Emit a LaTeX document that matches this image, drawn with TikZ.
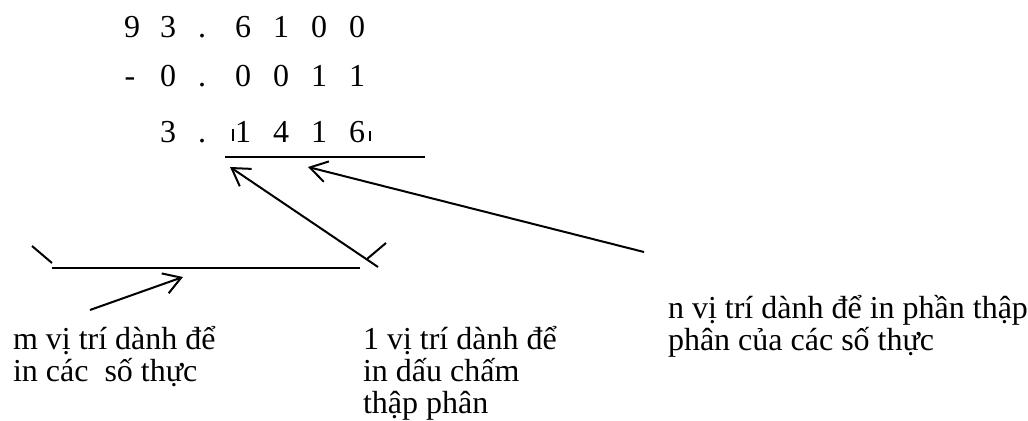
\documentclass[tikz,border=0pt]{standalone}
\usepackage{fontspec}
\setmainfont{Liberation Serif}
\usetikzlibrary{arrows.meta, positioning}

\begin{document}
\begin{tikzpicture}[x=0.5pt, y=-0.5pt, line width=1pt,
    font=\fontsize{16}{16}\selectfont,
    dig/.style={anchor=base, inner sep=0pt},
    lbl/.style={align=left, anchor=base west, inner sep=0pt},
    ptr/.style={-{Straight Barb[length=8.5pt, width=10.5pt]}}]
  \useasboundingbox (0,0) rectangle (1028,421);
  % the three rows of the subtraction
  \foreach \c/\x [count=\i] in {9/132, 3/168, ./202, 6/243, 1/281, 0/319, 0/357}
    \node[dig] (ra\i) at (\x,38) {\c};
  \foreach \c/\x [count=\i] in {-/130, 0/168, ./202, 0/243, 0/281, 1/319, 1/357}
    \node[dig] (rb\i) at (\x,87) {\c};
  \foreach \c/\x [count=\i] in {3/168, ./202, 1/243, 4/281, 1/319, 6/357}
    \node[dig] (rc\i) at (\x,143) {\c};
  \draw[line width=0.6pt] (233,129) -- (233,141);
  \draw[line width=0.6pt] (370,131) -- (370,141);

  % the two fields
  \coordinate (topl) at (225,157);
  \coordinate (topr) at (425,157);
  \coordinate (botl) at (52,268);
  \coordinate (botr) at (360,268);
  \draw (topl) -- (topr);
  \draw (botl) -- (botr);
  \draw (32,246) -- (52,263);
  \draw (367,259) -- (386,243);

  % labels (anchored at the baseline of their last line)
  \node[lbl] (mtxt) at (12,382) {m vị trí dành để\\in các\ \ số thực};
  \node[lbl] (dtxt) at (362,414) {1 vị trí dành để\\in dấu chấm\\thập phân};
  \node[lbl] (ntxt) at (667,351) {n vị trí dành để in phần thập\\phân của các số thực};

  % pointers
  \coordinate (mtail) at (90,310);
  \coordinate (mhead) at (183,277);
  \coordinate (dtail) at (378,267);
  \coordinate (dhead) at (230,167);
  \coordinate (ntail) at (644,252);
  \coordinate (nhead) at (308,167);
  \draw[ptr] (mtail) -- (mhead);
  \draw[ptr] (dtail) -- (dhead);
  \draw[ptr] (ntail) -- (nhead);
\end{tikzpicture}
\end{document}
